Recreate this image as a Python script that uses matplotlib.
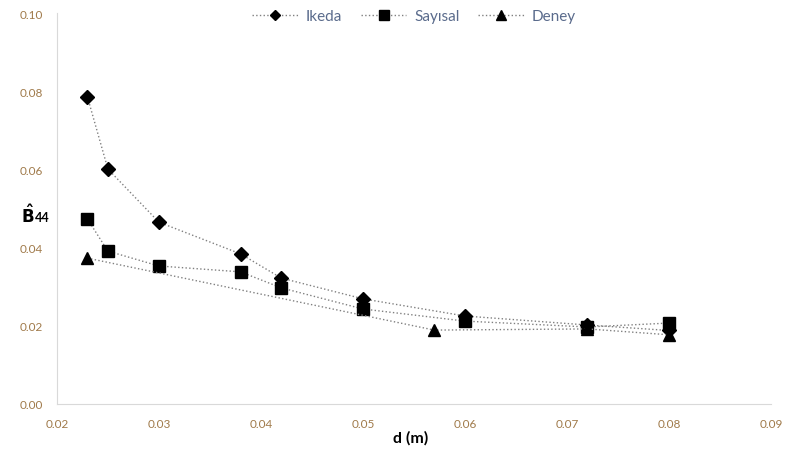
#! /usr/bin/env python3

import matplotlib
matplotlib.use("Agg")
import matplotlib.pyplot as plt

ikeda_d = [0.023, 0.025, 0.030, 0.038, 0.042, 0.050, 0.060, 0.072, 0.080]
ikeda_b = [0.0785, 0.0601, 0.0465, 0.0384, 0.0322, 0.0269, 0.0225, 0.0202, 0.0188]

sayisal_d = [0.023, 0.025, 0.030, 0.038, 0.042, 0.050, 0.060, 0.072, 0.080]
sayisal_b = [0.0473, 0.0391, 0.0353, 0.0338, 0.0297, 0.0243, 0.0212, 0.0197, 0.0207]

deney_d = [0.023, 0.057, 0.072, 0.080]
deney_b = [0.0373, 0.0189, 0.0192, 0.0177]

x_ticks = [0.02, 0.03, 0.04, 0.05, 0.06, 0.07, 0.08, 0.09]
y_ticks = [0.00, 0.02, 0.04, 0.06, 0.08, 0.10]

plt.rcParams["font.family"] = ["Lato", "DejaVu Sans"]

fig = plt.figure(figsize=(7.9, 4.52), dpi=100)
ax = fig.add_axes([0.072, 0.104, 0.904, 0.865])

line_kw = dict(color="#808080", linestyle=":", linewidth=1.0,
               markerfacecolor="black", markeredgecolor="black")
ax.plot(ikeda_d, ikeda_b, marker="D", markersize=7, label="Ikeda", **line_kw)
ax.plot(sayisal_d, sayisal_b, marker="s", markersize=9, label="Sayısal", **line_kw)
ax.plot(deney_d, deney_b, marker="^", markersize=9, label="Deney", **line_kw)

ax.set_xlim(0.02, 0.09)
ax.set_ylim(0.0, 0.10)
ax.set_xticks(x_ticks)
ax.set_yticks(y_ticks)
ax.set_xticklabels(["%.2f" % v for v in x_ticks])
ax.set_yticklabels(["%.2f" % v for v in y_ticks])
ax.tick_params(length=0, labelsize=8.5, labelcolor="#a07a4a", pad=10)

for s in ["top", "right"]:
    ax.spines[s].set_visible(False)
for s in ["left", "bottom"]:
    ax.spines[s].set_color("#d9d9d9")

fig.text(0.52, 0.03, "d (m)", ha="center", va="center",
         fontsize=11.5, fontweight="bold")
fig.text(0.026, 0.525, r"$\mathbf{\hat{B}}$", ha="left", va="center", fontsize=12)
fig.text(0.044, 0.518, "44", ha="left", va="center", fontsize=9, fontweight="bold")

leg = ax.legend(loc="upper center", bbox_to_anchor=(0.5, 1.045), ncol=3,
                frameon=False, fontsize=11, handlelength=3, columnspacing=1.2,
                handletextpad=0.5, markerscale=0.8)
for t in leg.get_texts():
    t.set_color("#5a6b8c")

fig.savefig("out.png", dpi=100)
